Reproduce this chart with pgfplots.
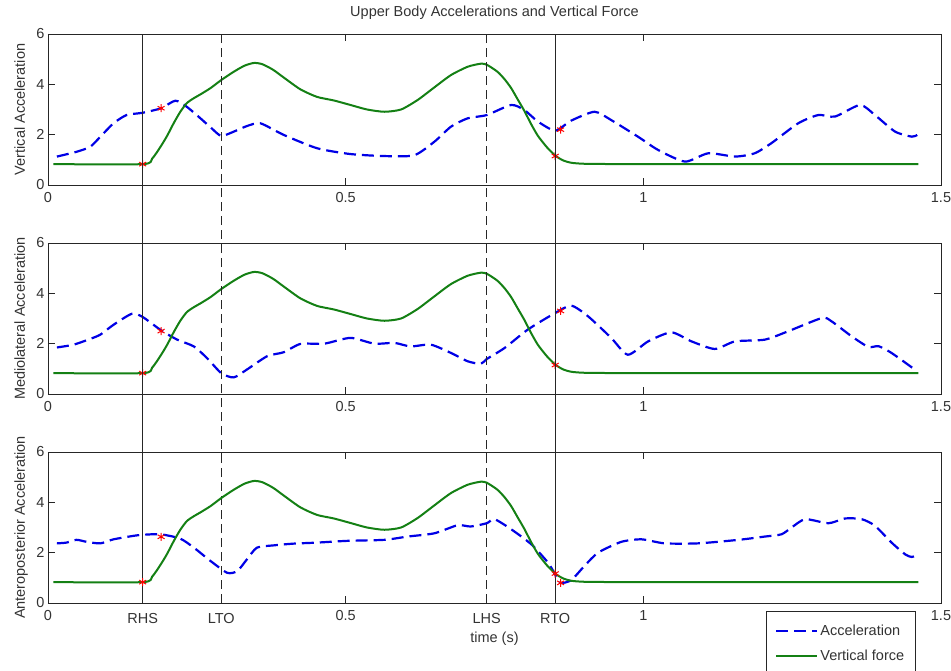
\documentclass[border=0pt]{standalone}
\usepackage{fontspec}
\setmainfont{Liberation Sans}
\usepackage{pgfplots}
\pgfplotsset{compat=1.18}
\usepackage{pgfplotstable}

\definecolor{mgreen}{RGB}{20,128,20}
\definecolor{mblue}{RGB}{0,0,230}

\pgfplotstableread{
x y
0.009 0.83
0.159 0.83
0.175 1.05
0.189 1.52
0.200 1.95
0.211 2.45
0.222 2.90
0.233 3.25
0.245 3.45
0.256 3.60
0.273 3.85
0.291 4.17
0.312 4.50
0.330 4.74
0.346 4.85
0.360 4.80
0.378 4.58
0.396 4.27
0.424 3.80
0.452 3.50
0.480 3.36
0.508 3.18
0.536 3.00
0.565 2.91
0.593 3.00
0.621 3.38
0.649 3.88
0.677 4.37
0.705 4.70
0.727 4.82
0.737 4.78
0.755 4.50
0.767 4.20
0.778 3.85
0.789 3.40
0.800 2.95
0.812 2.40
0.823 1.95
0.838 1.50
0.852 1.17
0.865 0.98
0.880 0.88
0.907 0.84
1.000 0.83
1.200 0.83
1.462 0.83
}\forcetab

\pgfplotstableread{
x y
0.015 1.13
0.048 1.32
0.071 1.52
0.088 1.92
0.110 2.45
0.132 2.78
0.159 2.87
0.190 3.05
0.214 3.35
0.233 3.11
0.256 2.65
0.275 2.25
0.291 1.95
0.312 2.12
0.335 2.35
0.357 2.45
0.396 1.99
0.452 1.46
0.508 1.23
0.565 1.15
0.615 1.18
0.649 1.72
0.677 2.32
0.705 2.65
0.737 2.78
0.778 3.18
0.800 2.98
0.823 2.52
0.852 2.16
0.879 2.56
0.918 2.91
0.946 2.58
0.991 1.92
1.025 1.39
1.070 0.93
1.109 1.26
1.154 1.13
1.187 1.26
1.215 1.66
1.260 2.45
1.294 2.78
1.322 2.72
1.364 3.18
1.389 2.78
1.423 2.12
1.451 1.92
1.460 1.99
}\verttab

\pgfplotstableread{
x y
0.015 1.85
0.043 1.96
0.071 2.19
0.088 2.36
0.110 2.75
0.141 3.19
0.159 3.06
0.190 2.53
0.217 2.16
0.245 1.89
0.267 1.43
0.291 0.83
0.312 0.66
0.334 0.97
0.368 1.50
0.396 1.66
0.424 1.99
0.464 2.00
0.508 2.23
0.548 2.00
0.582 2.03
0.609 1.89
0.643 1.96
0.677 1.63
0.705 1.30
0.727 1.20
0.737 1.39
0.767 1.83
0.806 2.56
0.852 3.22
0.879 3.51
0.907 3.09
0.946 2.23
0.974 1.56
1.008 2.09
1.047 2.45
1.081 2.09
1.120 1.79
1.154 2.09
1.204 2.16
1.243 2.49
1.300 3.02
1.316 2.89
1.350 2.29
1.378 1.87
1.395 1.90
1.417 1.63
1.456 0.97
}\mediotab

\pgfplotstableread{
x y
0.015 2.37
0.031 2.40
0.048 2.51
0.065 2.43
0.088 2.37
0.110 2.53
0.144 2.67
0.159 2.71
0.189 2.73
0.222 2.56
0.245 2.20
0.273 1.67
0.301 1.20
0.318 1.27
0.334 1.73
0.351 2.20
0.379 2.29
0.413 2.36
0.452 2.40
0.503 2.47
0.565 2.51
0.604 2.64
0.649 2.77
0.688 3.09
0.710 3.04
0.737 3.17
0.750 3.33
0.778 2.93
0.812 2.33
0.840 1.60
0.852 1.13
0.861 0.80
0.879 0.91
0.901 1.47
0.924 2.00
0.963 2.43
0.997 2.53
1.036 2.37
1.092 2.37
1.160 2.51
1.204 2.64
1.232 2.73
1.249 3.00
1.272 3.33
1.311 3.17
1.339 3.36
1.367 3.33
1.389 3.07
1.417 2.40
1.440 1.93
1.451 1.83
1.462 1.93
}\anteotab

\pgfplotsset{
  myax/.style={
    scale only axis, width=893bp, height=151bp,
    xmin=0, xmax=1.5, ymin=0, ymax=6,
    xtick={0,0.5,1,1.5}, ytick={0,2,4,6},
    tick align=inside, xtick pos=both, ytick pos=both,
    xticklabel pos=lower, yticklabel pos=left,
    major tick length=7bp,
    /pgf/number format/assume math mode=true,
    tick label style={font=\fontsize{14.5bp}{17bp}\selectfont, text=black!80},
    xticklabel style={anchor=base, yshift=-17bp},
    label style={font=\fontsize{14.5bp}{17bp}\selectfont, text=black!80},
    ylabel style={at={(axis description cs:-0.0258,0.5)}, anchor=base},
    axis line style={black!85, line width=0.8bp},
    every tick/.style={black!85, line width=0.8bp},
  },
  acc/.style={mblue, line width=2.2bp, dash pattern=on 12bp off 6bp, smooth, tension=0.4},
  frc/.style={mgreen, line width=2bp, smooth, tension=0.4},
  stars/.style={only marks, mark=asterisk, mark size=4bp, red, mark options={line width=1bp}},
}

\begin{document}
\begin{tikzpicture}
% ---- top ----
\begin{axis}[myax, ylabel={Vertical Acceleration},
  title={Upper Body Accelerations and Vertical Force},
  title style={at={(axis description cs:0.5,1)}, anchor=base, yshift=12bp,
    font=\fontsize{14.5bp}{17bp}\selectfont, text=black!80}]
\addplot[acc] table {\verttab};
\addplot[frc] table {\forcetab};
\addplot[stars] coordinates {(0.159,0.83) (0.852,1.15) (0.190,3.05) (0.861,2.20)};
\end{axis}
% ---- middle ----
\begin{axis}[myax, at={(0,-209bp)}, ylabel={Mediolateral Acceleration}]
\addplot[acc] table {\mediotab};
\addplot[frc] table {\forcetab};
\addplot[stars] coordinates {(0.159,0.83) (0.852,1.15) (0.190,2.50) (0.861,3.30)};
\end{axis}
% ---- bottom ----
\begin{axis}[myax, at={(0,-418bp)}, ylabel={Anteroposterior Acceleration},
  clip=false,
  xtick={0,0.159,0.291,0.5,0.737,0.852,1,1.5},
  xticklabels={0,\raisebox{-3bp}{RHS},\raisebox{-3bp}{LTO},0.5,\raisebox{-3bp}{LHS},\raisebox{-3bp}{RTO},1,1.5},
  xlabel={time (s)},
  xlabel style={at={(axis description cs:0.5,0)}, anchor=base, yshift=-39bp},
  legend style={at={(axis description cs:0.804,-0.053)}, anchor=north west,
    draw=black!85, fill=white, font=\fontsize{14.5bp}{17bp}\selectfont,
    inner xsep=9bp, inner ysep=12bp, row sep=9bp, nodes={inner sep=2bp, text=black!80}},
  legend cell align=left,
  legend image code/.code={\draw[#1] (0bp,0bp) -- (41bp,0bp);}]
\addplot[black!85, line width=0.9bp, forget plot] coordinates {(0.159,0) (0.159,22.6)};
\addplot[black!85, line width=0.9bp, forget plot] coordinates {(0.852,0) (0.852,22.6)};
\addplot[black!85, line width=0.9bp, dash pattern=on 9bp off 5bp, forget plot] coordinates {(0.291,0) (0.291,22.6)};
\addplot[black!85, line width=0.9bp, dash pattern=on 9bp off 5bp, forget plot] coordinates {(0.737,0) (0.737,22.6)};
\addplot[acc] table {\anteotab};
\addlegendentry{Acceleration}
\addplot[frc] table {\forcetab};
\addlegendentry{Vertical force}
\addplot[stars, forget plot] coordinates {(0.159,0.83) (0.852,1.17) (0.190,2.63) (0.861,0.80)};
\end{axis}
\pgfresetboundingbox
\path[use as bounding box] (-48bp,-486bp) rectangle (903bp,185bp);
\end{tikzpicture}
\end{document}
